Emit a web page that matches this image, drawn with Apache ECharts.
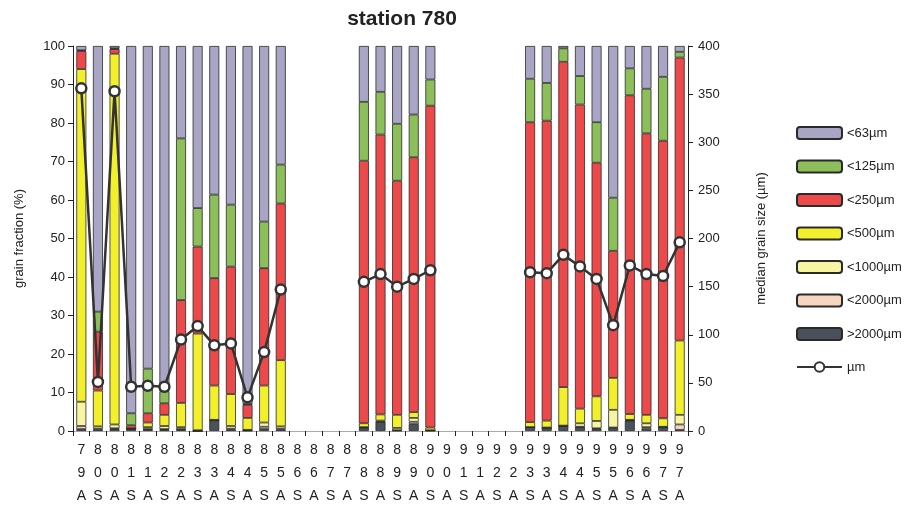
<!DOCTYPE html>
<html><head><meta charset="utf-8">
<script src="https://cdn.jsdelivr.net/npm/echarts@6/dist/echarts.min.js"></script>
<style>html,body{margin:0;padding:0;background:#fff}#c{width:909px;height:510px}</style>
</head><body><div id="c"></div>
<script>
const categories = ['79A','80S','80A','81S','81A','82S','82A','83S','83A','84S','84A','85S','85A','86S','86A','87S','87A','88S','88A','89S','89A','90S','90A','91S','91A','92S','92A','93S','93A','94S','94A','95S','95A','96S','96A','97S','97A'];
const N = null;
const gt2000 = [0.5,0.4,0.5,0.5,0.3,0.3,0.3,0,2.8,0.4,0.1,0.5,0.4, N,N,N,N, 0.8,2.3,0.1,1.8,0.1, N,N,N,N,N, 1.0,0.8,1.3,1.0,0.5,0.8,2.7,0.6,1.0,0.3];
const lt2000 = [0.8,0.2,0.2,0.1,0.2,0.2,0.2,0,0,0.2,0.1,0.6,0.2, N,N,N,N, 0.1,0.1,0.1,0.6,0, N,N,N,N,N, 0,0,0,0.1,0.2,0.1,0.1,0.4,0,1.4];
const lt1000 = [6.3,0.6,1.0,0,0.5,0.8,0.5,0.2,0.1,0.7,0.1,1.1,0.6, N,N,N,N, 0.1,0.3,0.6,1.0,0.1, N,N,N,N,N, 0,0.1,0.1,0.9,1.9,4.6,0.1,1.0,0.1,2.5];
const lt500 = [86.4,9.3,96.3,0.1,1.2,2.9,6.3,25.1,8.9,8.3,3.1,9.6,17.2, N,N,N,N, 1.0,1.6,3.4,1.5,0.7, N,N,N,N,N, 1.3,1.8,10.0,3.8,6.4,8.3,1.5,2.2,2.2,19.3];
const lt250 = [4.7,15.3,1.2,0.8,2.4,3.0,26.7,22.6,27.9,33.1,3.4,30.5,40.7, N,N,N,N, 68.2,72.7,60.8,66.2,83.6, N,N,N,N,N, 77.9,77.9,84.5,79.0,60.7,33.0,82.8,73.1,72.1,73.5];
const lt125 = [0.2,5.2,0.2,3.1,11.6,3.1,42.0,10.0,21.7,16.1,0.2,12.1,10.1, N,N,N,N, 15.3,11.1,14.8,11.1,6.8, N,N,N,N,N, 11.3,9.8,3.5,7.4,10.5,13.8,7.0,11.6,16.6,1.5];
const lt63 = [1.1,69.0,0.6,95.4,83.8,89.7,24.0,42.1,38.6,41.2,93.0,45.6,30.8, N,N,N,N, 14.5,11.9,20.2,17.8,8.7, N,N,N,N,N, 8.5,9.6,0.6,7.8,19.8,39.4,5.8,11.1,8.0,1.5];
const median = [356,51,353,46,47,46,95,109,89,91,35,82,147, N,N,N,N, 155,163,150,158,167, N,N,N,N,N, 165,164,183,171,158,110,172,163,161,196];
const leftTicks = {min:0, max:100, interval:10};
const rightTicks = {min:0, max:400, interval:50};

const FONT = 'Liberation Sans, Arial, sans-serif';
const fractions = [
  {name:'>2000µm', data:gt2000, color:'#4b515b'},
  {name:'<2000µm', data:lt2000, color:'#f6d6c0'},
  {name:'<1000µm', data:lt1000, color:'#f7f4a2'},
  {name:'<500µm', data:lt500, color:'#f2ef2c'},
  {name:'<250µm', data:lt250, color:'#ec4a4a'},
  {name:'<125µm', data:lt125, color:'#8cbf59'},
  {name:'<63µm', data:lt63, color:'#a9a5c5'}
];
const series = fractions.map(f => ({
  name: f.name, type:'bar', stack:'g', barWidth:10, yAxisIndex:0,
  itemStyle:{color:f.color, borderColor:'#2a2a2a', borderWidth:0.8},
  data: f.data
}));
series.push({
  name:'µm', type:'line', yAxisIndex:1, data: median, connectNulls:false,
  symbol:'circle', symbolSize:10, z:10,
  lineStyle:{color:'#333', width:2.5},
  itemStyle:{color:'#fff', borderColor:'#333', borderWidth:2.5}
});

const chart = echarts.init(document.getElementById('c'), null, {renderer:'canvas'});
chart.setOption({
  animation:false,
  backgroundColor:'#fff',
  textStyle:{fontFamily:FONT},
  title:{text:'station 780', left:397, top:4, textAlign:'center',
    textStyle:{fontFamily:FONT, fontSize:21, fontWeight:'bold', color:'#222'}},
  grid:{left:73, right:221, top:46, bottom:79},
  legend:{
    orient:'vertical', left:791, top:121, itemWidth:45, itemHeight:12, itemGap:19.5,
    data:['<63µm','<125µm','<250µm','<500µm','<1000µm','<2000µm','>2000µm','µm'],
    textStyle:{fontFamily:FONT, fontSize:13, color:'#222'}
  },
  xAxis:[{
    type:'category', data:categories, position:'bottom',
    axisLine:{lineStyle:{color:'#222', width:1}},
    axisTick:{show:true, length:5, lineStyle:{color:'#222'}},
    axisLabel:{interval:0, fontSize:14, lineHeight:23, color:'#222', margin:8,
      formatter: v => v.split('').join('\n')}
  },{
    type:'category', data:categories, position:'top',
    axisLine:{lineStyle:{color:'#aaa', width:1}},
    axisTick:{show:false}, axisLabel:{show:false}
  }],
  yAxis:[{
    type:'value', min:leftTicks.min, max:leftTicks.max, interval:leftTicks.interval, position:'left',
    name:'grain fraction (%)', nameLocation:'middle', nameGap:47,
    nameTextStyle:{fontSize:13, color:'#222', fontFamily:FONT},
    axisLine:{show:true, lineStyle:{color:'#222'}},
    axisTick:{show:true, length:5, lineStyle:{color:'#222'}},
    axisLabel:{fontSize:13, color:'#222', margin:8},
    splitLine:{show:false}
  },{
    type:'value', min:rightTicks.min, max:rightTicks.max, interval:rightTicks.interval, position:'right',
    name:'median grain size (µm)', nameLocation:'middle', nameGap:67, nameRotate:90,
    nameTextStyle:{fontSize:13, color:'#222', fontFamily:FONT},
    axisLine:{show:true, lineStyle:{color:'#222'}},
    axisTick:{show:true, length:5, lineStyle:{color:'#222'}},
    axisLabel:{fontSize:13, color:'#222', margin:10},
    splitLine:{show:false}
  }],
  series: series
});
</script>
</body></html>
